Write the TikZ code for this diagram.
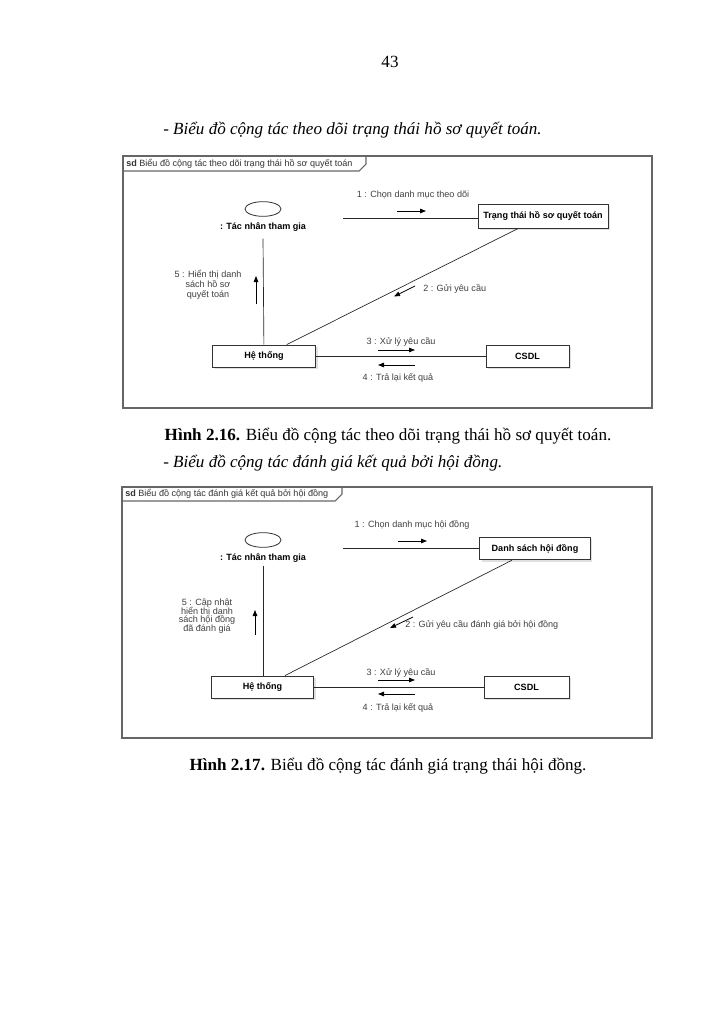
\documentclass[tikz,border=0pt]{standalone}
\usepackage{fontspec}
\setmainfont{Liberation Serif}
\newfontfamily\dsans{Liberation Sans}
\newcommand{\tightlines}{\lineskiplimit=-20pt\relax}
\usetikzlibrary{arrows.meta,calc,shadows,shapes.geometric}
\begin{document}
\begin{tikzpicture}[x=0.75pt,y=-0.75pt,
  frame/.style={draw=black!60, line width=0.8pt},
  obj/.style={draw=black!80, line width=0.6pt, fill=white, inner sep=0pt,
    font=\dsans\fontsize{6.8}{8}\selectfont\bfseries,
    general shadow={fill=black!12, shadow xshift=1.5pt, shadow yshift=-1.5pt}},
  actorbox/.style={inner sep=0pt, minimum width=120pt, minimum height=26pt},
  actorhead/.style={draw=black!80, line width=0.6pt, ellipse, inner sep=0pt, minimum width=27pt, minimum height=11pt},
  link/.style={draw=black!85, line width=0.5pt},
  msg/.style={draw=black, line width=0.6pt, -{Triangle[length=4.5pt,width=3.4pt]}},
  lbl/.style={font=\dsans\fontsize{6.8}{7.5}\selectfont, text=black!75, inner sep=0pt, align=center},
  bold/.style={font=\dsans\fontsize{6.8}{8}\selectfont\bfseries, inner sep=0pt},
  tabtext/.style={font=\dsans\fontsize{6.8}{8}\selectfont, text=black!80, inner sep=0pt, anchor=west},
  pagetext/.style={font=\fontsize{12.8}{14}\selectfont, inner sep=0pt},
  pageital/.style={font=\fontsize{12.8}{14}\selectfont\itshape, inner sep=0pt, anchor=west},
]
\useasboundingbox[fill=white] (0,0) rectangle (723,1024);

% page texts
\node[pagetext] (pnum) at (390,62) {43};
\node[pageital] (head1) at (163,130) {- Biểu đồ cộng tác theo dõi trạng thái hồ sơ quyết toán.};
\node[pagetext] (cap1) at (388,436) {\textbf{Hình 2.16.} Biểu đồ cộng tác theo dõi trạng thái hồ sơ quyết toán.};
\node[pageital] (head2) at (163,463) {- Biểu đồ cộng tác đánh giá kết quả bởi hội đồng.};
\node[pagetext] (cap2) at (388,766) {\textbf{Hình 2.17.} Biểu đồ cộng tác đánh giá trạng thái hội đồng.};

% ================= diagram 1 =================
\draw[frame] (123,156) rectangle (652,408);
\draw[frame] (123,171) -- (359,171) -- (366,164) -- (366,156);
\node[tabtext] (tab1) at (126,163.5) {\textbf{sd} Biểu đồ cộng tác theo dõi trạng thái hồ sơ quyết toán};

\node[actorbox] (act1) at (263,218) {};
\node[actorhead] (ah1) at (263,209) {};
\node[bold] (an1) at (263,227) {: Tác nhân tham gia};

\node[obj, minimum width=97.5pt, minimum height=18pt] (tt1) at (543,216) {Trạng thái hồ sơ quyết toán};
\node[obj, minimum width=77.25pt, minimum height=16.5pt] (ht1) at (264,356) {Hệ thống};
\node[obj, minimum width=62.25pt, minimum height=16.5pt] (db1) at (527.5,356) {CSDL};

\draw[link] (act1) -- (act1 -| tt1.west);
\draw[link] (act1.south) ++(0,3) -- (ht1);
\draw[link] (tt1) -- (ht1);
\draw[link] (ht1) -- (db1);

\draw[msg] (397,211) -- (426,211);
\node[lbl] (m11) at (413,195) {1 : Chọn danh mục theo dõi};
\draw[msg] (415,286) -- (394,296.5);
\node[lbl, anchor=west] (m12) at (423,289) {2 : Gửi yêu cầu};
\draw[msg] (378,350) -- (415,350);
\node[lbl] (m13) at (401,342) {3 : Xử lý yêu cầu};
\draw[msg] (415,365) -- (378,365);
\node[lbl] (m14) at (398,378) {4 : Trả lại kết quả};
\draw[msg] (256,304) -- (256,276);
\node[lbl, font=\dsans\fontsize{6.8}{7.5}\selectfont\tightlines] (m15) at (208,285) {5 : Hiển thị danh\\sách hồ sơ\\quyết toán};

% ================= diagram 2 =================
\draw[frame] (122,487) rectangle (652,738);
\draw[frame] (122,501) -- (335,501) -- (342,494) -- (342,487);
\node[tabtext] (tab2) at (125,494) {\textbf{sd} Biểu đồ cộng tác đánh giá kết quả bởi hội đồng};

\node[actorbox] (act2) at (263,548.5) {};
\node[actorhead] (ah2) at (263,540) {};
\node[bold] (an2) at (263,558) {: Tác nhân tham gia};

\node[obj, minimum width=83pt, minimum height=17pt] (ds2) at (535,548.5) {Danh sách hội đồng};
\node[obj, minimum width=76.5pt, minimum height=16.5pt] (ht2) at (262.5,687) {Hệ thống};
\node[obj, minimum width=63.75pt, minimum height=16.5pt] (db2) at (526.5,687) {CSDL};

\draw[link] (act2) -- (act2 -| ds2.west);
\draw[link] (act2.south) -- (act2.south |- ht2.north);
\draw[link] (ds2) -- (ht2);
\draw[link] (ht2) -- (db2);

\draw[msg] (398,541) -- (427,541);
\node[lbl] (m21) at (412,525) {1 : Chọn danh mục hội đồng};
\draw[msg] (413,617) -- (390,628);
\node[lbl, anchor=west] (m22) at (405,625) {2 : Gửi yêu cầu đánh giá bởi hội đồng};
\draw[msg] (378,680) -- (415,680);
\node[lbl] (m23) at (401,673) {3 : Xử lý yêu cầu};
\draw[msg] (415,694) -- (378,694);
\node[lbl] (m24) at (398,708) {4 : Trả lại kết quả};
\draw[msg] (255,635) -- (255,610);
\node[lbl, font=\dsans\fontsize{6.8}{6.4}\selectfont\tightlines] (m25) at (207,616) {5 : Cập nhật\\hiển thị danh\\sách hội đồng\\đã đánh giá};
\end{tikzpicture}
\end{document}
